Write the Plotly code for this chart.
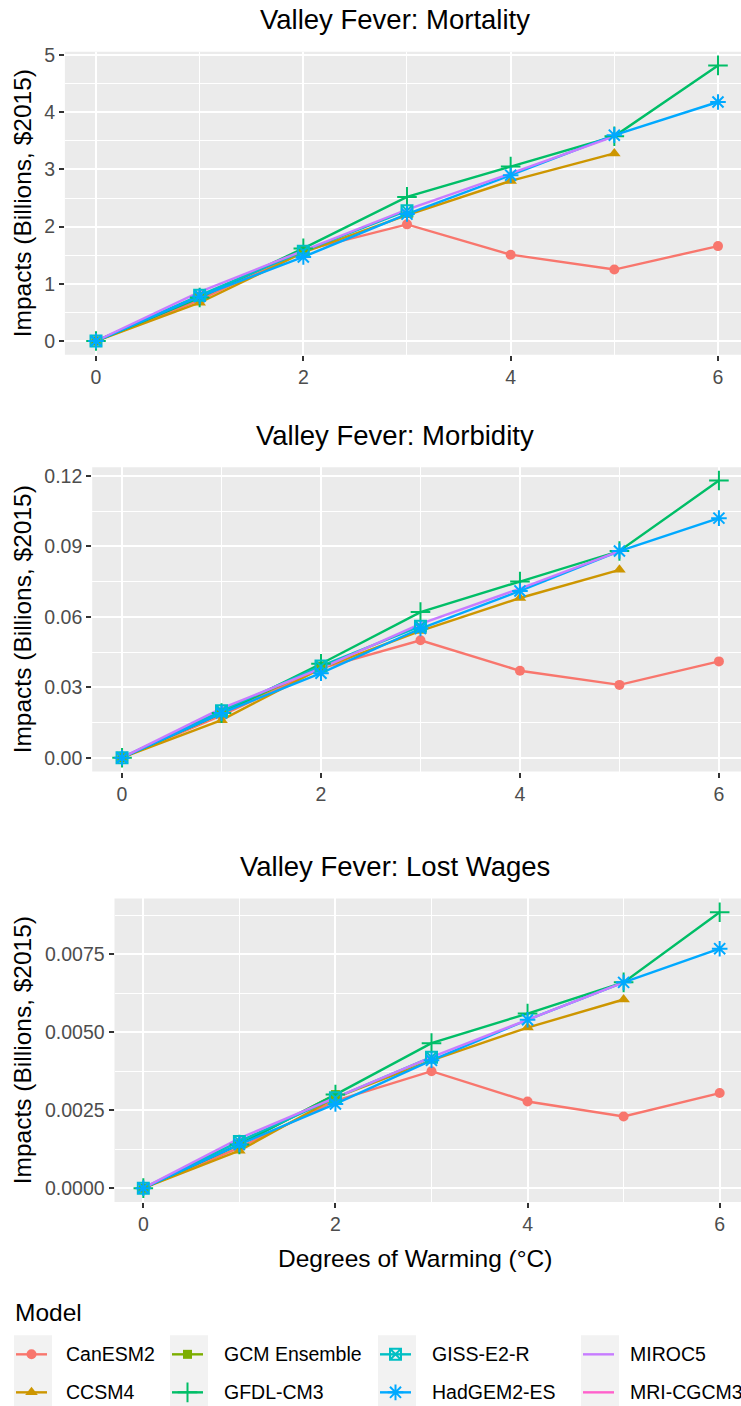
import plotly.graph_objects as go

# Degrees of warming (°C)
warming = [0, 1, 2, 3, 4, 5, 6]

models = ["CanESM2", "CCSM4", "GCM Ensemble", "GFDL-CM3",
          "GISS-E2-R", "HadGEM2-ES", "MIROC5", "MRI-CGCM3"]
colors = ["#F8766D", "#CD9600", "#7CAE00", "#00BE67",
          "#00BFC4", "#00A9FF", "#C77CFF", "#FF61CC"]

# Valley Fever: Mortality (billions, $2015)
mortality = {
    "CanESM2":      [0, 0.72, 1.58, 2.04, 1.51, 1.25, 1.66],
    "CCSM4":        [0, 0.67, 1.55, 2.20, 2.80, 3.28],
    "GCM Ensemble": [0, 0.77, 1.60],
    "GFDL-CM3":     [0, 0.76, 1.62, 2.52, 3.05, 3.58, 4.82],
    "GISS-E2-R":    [0, 0.80, 1.57, 2.28],
    "HadGEM2-ES":   [0, 0.78, 1.47, 2.22, 2.90, 3.60, 4.18],
    "MIROC5":       [0, 0.86, 1.58, 2.30, 2.93, 3.58],
    "MRI-CGCM3":    [0],
}

# Valley Fever: Morbidity (billions, $2015)
morbidity = {
    "CanESM2":      [0, 0.018, 0.038, 0.050, 0.037, 0.031, 0.041],
    "CCSM4":        [0, 0.016, 0.038, 0.054, 0.068, 0.080],
    "GCM Ensemble": [0, 0.019, 0.039],
    "GFDL-CM3":     [0, 0.019, 0.040, 0.062, 0.075, 0.088, 0.118],
    "GISS-E2-R":    [0, 0.020, 0.039, 0.056],
    "HadGEM2-ES":   [0, 0.019, 0.036, 0.055, 0.071, 0.088, 0.102],
    "MIROC5":       [0, 0.021, 0.038, 0.057, 0.072, 0.088],
    "MRI-CGCM3":    [0],
}

# Valley Fever: Lost Wages (billions, $2015)
lost_wages = {
    "CanESM2":      [0, 0.0013, 0.0028, 0.00375, 0.00278, 0.0023, 0.00305],
    "CCSM4":        [0, 0.0012, 0.0029, 0.0041, 0.00515, 0.00605],
    "GCM Ensemble": [0, 0.0014, 0.0030],
    "GFDL-CM3":     [0, 0.0014, 0.0030, 0.00465, 0.0056, 0.0066, 0.00885],
    "GISS-E2-R":    [0, 0.0015, 0.0029, 0.0042],
    "HadGEM2-ES":   [0, 0.0014, 0.0027, 0.0041, 0.0054, 0.0066, 0.00768],
    "MIROC5":       [0, 0.0016, 0.0029, 0.0042, 0.0054, 0.0066],
    "MRI-CGCM3":    [0],
}

panel_titles = ["Valley Fever: Mortality", "Valley Fever: Morbidity",
                "Valley Fever: Lost Wages"]
panels = [mortality, morbidity, lost_wages]

# marker style per model: (symbol, size, outline width); None = line only
symbols = {
    "CanESM2": ("circle", 10, 0),
    "CCSM4": ("triangle-up", 11, 0),
    "GCM Ensemble": ("square", 9, 0),
    "GFDL-CM3": ("cross-thin-open", 14, 2),
    "GISS-E2-R": ("square-x-open", 11, 2),
    "HadGEM2-ES": ("asterisk-open", 13, 2),
    "MIROC5": None,
    "MRI-CGCM3": None,
}

W, H = 741, 1406
FONT = "Liberation Sans"
TICK_SIZE = 19.5
TITLE_SIZE = 27.5
AXIS_TITLE_SIZE = 24.5
LEGEND_SIZE = 19.5
LINE_W = 2.4


def px_x(p):
    return p / W


def px_y(p):
    # layout pixel rows, stretched slightly above the lower axis block
    p = 1187 + (p - 1187) / 0.9938
    return 1 - p / H


fig = go.Figure()

# panel geometry in pixels: left, top, bottom
geom = [(64.9, 51, 354), (92.2, 466.3, 770.5), (114.5, 897.4, 1200.7)]
yranges = [[-0.241, 5.06], [-0.00589, 0.1237], [-0.000443, 0.00929]]

for i, data in enumerate(panels):
    ax = "" if i == 0 else str(i + 1)
    xa, ya = "x" + ax, "y" + ax
    # lines first, then points on top
    for m, c in zip(models, colors):
        vals = data[m]
        fig.add_trace(go.Scatter(
            x=warming[:len(vals)], y=vals, mode="lines", name=m,
            line=dict(color=c, width=LINE_W), xaxis=xa, yaxis=ya,
            showlegend=False))
    for m, c in zip(models, colors):
        s = symbols[m]
        if s is None:
            continue
        vals = data[m]
        fig.add_trace(go.Scatter(
            x=warming[:len(vals)], y=vals, mode="markers", name=m,
            marker=dict(symbol=s[0], size=s[1], color=c,
                        line=dict(color=c, width=s[2])),
            xaxis=xa, yaxis=ya, showlegend=False))

# ---- legend: 4 columns x 2 rows, filled column-wise, on a pixel-space axis
key_left = [14, 170, 378, 581]
text_left = [64, 222, 430, 628]
row_y = [1353, 1391]
KEY_W, KEY_H = 38, 38

fig.layout["xaxis4"] = dict(domain=[0, 1], range=[0, W], visible=False,
                            fixedrange=True, anchor="y4")
fig.layout["yaxis4"] = dict(domain=[0, 1], range=[0, 1], visible=False,
                            fixedrange=True, anchor="x4")

shapes = []
annotations = []
for k, (m, c) in enumerate(zip(models, colors)):
    col, row = k // 2, k % 2
    x0 = key_left[col] + 2
    x1 = key_left[col] + KEY_W - 5
    yc = px_y(row_y[row])
    fig.add_trace(go.Scatter(
        x=[x0, x1], y=[yc, yc], mode="lines", line=dict(color=c, width=LINE_W),
        xaxis="x4", yaxis="y4", showlegend=False, hoverinfo="skip"))
    s = symbols[m]
    if s is not None:
        fig.add_trace(go.Scatter(
            x=[(x0 + x1) / 2], y=[yc], mode="markers",
            marker=dict(symbol=s[0], size=s[1], color=c,
                        line=dict(color=c, width=s[2])),
            xaxis="x4", yaxis="y4", showlegend=False, hoverinfo="skip"))
    annotations.append(dict(
        text=m, xref="paper", yref="paper", x=px_x(text_left[col]),
        y=yc, xanchor="left", yanchor="middle", showarrow=False,
        font=dict(family=FONT, size=LEGEND_SIZE, color="#000000")))

# grey key backgrounds
for left in key_left:
    shapes.append(dict(type="rect", xref="paper", yref="paper",
                       x0=px_x(left), x1=px_x(left + KEY_W),
                       y0=px_y(1334 + 2 * KEY_H), y1=px_y(1334),
                       fillcolor="#F2F2F2", line=dict(width=0), layer="below"))

for i, (left, top, bottom) in enumerate(geom):
    ax = "" if i == 0 else str(i + 1)
    xkey, ykey = "xaxis" + ax, "yaxis" + ax
    fig.layout[xkey] = dict(
        domain=[px_x(left), 1], range=[-0.3, 6.222], anchor="y" + ax,
        tick0=0, dtick=2, ticks="outside", ticklen=5, tickwidth=1.6,
        tickcolor="#333333", showgrid=True, gridcolor="white", gridwidth=2,
        zeroline=False, showline=False,
        tickfont=dict(family=FONT, size=TICK_SIZE, color="#4D4D4D"),
        minor=dict(dtick=1, tick0=0, showgrid=True, gridcolor="white",
                   gridwidth=1, ticks=""),
    )
    yd = dict(
        domain=[px_y(bottom), px_y(top)], range=yranges[i], anchor="x" + ax,
        ticks="outside", ticklen=5, tickwidth=1.6, tickcolor="#333333",
        showgrid=True, gridcolor="white", gridwidth=2, zeroline=False,
        showline=False,
        tickfont=dict(family=FONT, size=TICK_SIZE, color="#4D4D4D"),
    )
    if i == 0:
        yd.update(tick0=0, dtick=1,
                  minor=dict(dtick=0.5, tick0=0, showgrid=True,
                             gridcolor="white", gridwidth=1, ticks=""))
    elif i == 1:
        yd.update(tick0=0, dtick=0.03, tickformat=".2f",
                  minor=dict(dtick=0.015, tick0=0, showgrid=True,
                             gridcolor="white", gridwidth=1, ticks=""))
    else:
        yd.update(tick0=0, dtick=0.0025, tickformat=".4f",
                  minor=dict(dtick=0.00125, tick0=0, showgrid=True,
                             gridcolor="white", gridwidth=1, ticks=""))
    fig.layout[ykey] = yd

    # panel background
    shapes.append(dict(type="rect", xref="paper", yref="paper",
                       x0=px_x(left), x1=1, y0=px_y(bottom), y1=px_y(top),
                       fillcolor="#EBEBEB", line=dict(width=0), layer="below"))

    # panel title
    annotations.append(dict(
        text=panel_titles[i], xref="paper", yref="paper",
        x=px_x(395), y=px_y(top - 32), xanchor="center", yanchor="middle",
        showarrow=False, font=dict(family=FONT, size=TITLE_SIZE,
                                   color="#000000")))
    # y axis title
    annotations.append(dict(
        text="Impacts (Billions, $2015)", xref="paper", yref="paper",
        x=px_x(22), y=px_y((top + bottom) / 2), xanchor="center",
        yanchor="middle", textangle=-90, showarrow=False,
        font=dict(family=FONT, size=AXIS_TITLE_SIZE, color="#000000")))

annotations.append(dict(
    text="Degrees of Warming (°C)", xref="paper", yref="paper",
    x=px_x(415), y=px_y(1257), xanchor="center", yanchor="middle",
    showarrow=False, font=dict(family=FONT, size=AXIS_TITLE_SIZE,
                               color="#000000")))
annotations.append(dict(
    text="Model", xref="paper", yref="paper",
    x=px_x(13), y=px_y(1311), xanchor="left", yanchor="middle",
    showarrow=False, font=dict(family=FONT, size=AXIS_TITLE_SIZE,
                               color="#000000")))

fig.update_layout(
    width=W, height=H, margin=dict(l=0, r=0, t=0, b=0),
    paper_bgcolor="white", plot_bgcolor="rgba(0,0,0,0)",
    shapes=shapes, annotations=annotations, showlegend=False,
    hovermode=False,
)

fig.write_html("out.html")
